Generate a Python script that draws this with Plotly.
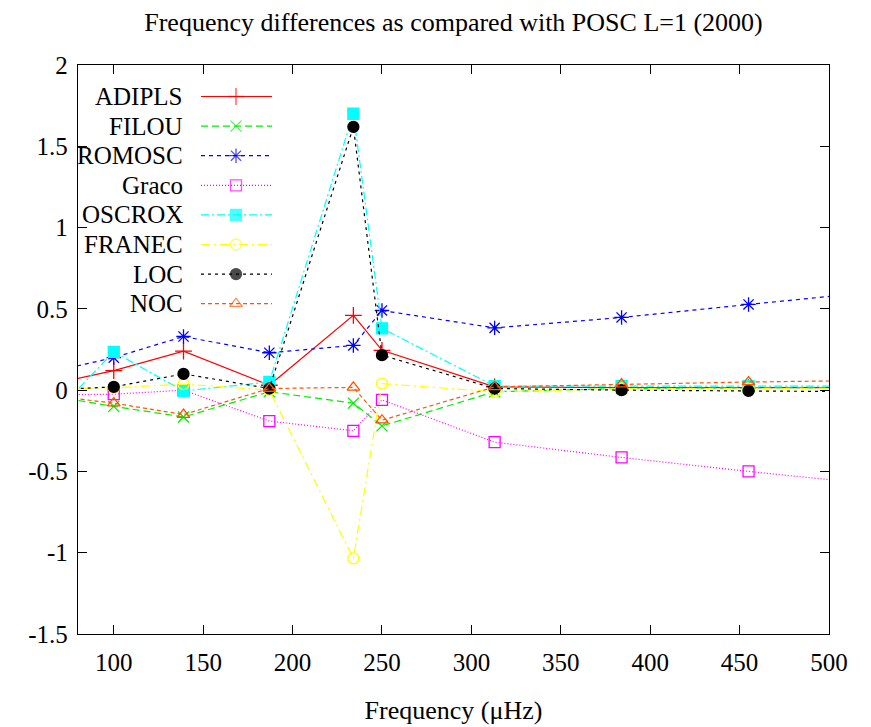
import plotly.graph_objects as go

# ---------------- data ----------------
freq = [62, 100, 139, 187, 234, 250, 313, 384, 455, 526]

adipls = [0.03, 0.12, 0.24, 0.03, 0.46, 0.245, 0.02, 0.015, 0.015, 0.015]
filou = [-0.03, -0.10, -0.165, -0.01, -0.08, -0.22, -0.01, 0.01, 0.015, 0.015]
romosc = [0.105, 0.20, 0.33, 0.23, 0.275, 0.49, 0.383, 0.447, 0.527, 0.605]
graco = [-0.03, -0.025, 0.0, -0.19, -0.25, -0.06, -0.32, -0.414, -0.50, -0.58]
oscrox = [-0.2, 0.235, -0.005, 0.05, 1.70, 0.38, 0.025, 0.026, 0.025, 0.025]
franec = [0.005, 0.015, 0.037, 0.0, -1.035, 0.04, -0.01, 0.01, 0.01, 0.01]
loc = [0.0, 0.02, 0.10, 0.01, 1.62, 0.215, 0.01, 0.0, -0.005, -0.01]
noc = [-0.03, -0.08, -0.15, 0.01, 0.017, -0.185, 0.02, 0.037, 0.05, 0.06]

series_names = ["ADIPLS", "FILOU", "ROMOSC", "Graco", "OSCROX", "FRANEC", "LOC", "NOC"]
series_values = [adipls, filou, romosc, graco, oscrox, franec, loc, noc]

x_ticks = [100, 150, 200, 250, 300, 350, 400, 450, 500]
y_ticks = [-1.5, -1, -0.5, 0, 0.5, 1, 1.5, 2]
y_tick_labels = ["-1.5", "-1", "-0.5", "0", "0.5", "1", "1.5", "2"]

title_text = "Frequency differences as compared with POSC L=1 (2000)"
x_title = "Frequency (\u03bcHz)"

# ---------------- styles ----------------
styles = [
    dict(color="#ff0000", dash="solid", symbol="cross-thin-open", size=12),
    dict(color="#00ee00", dash="7px,4px", symbol="x-thin-open", size=11),
    dict(color="#0000ff", dash="4px,4px", symbol="asterisk-open", size=12),
    dict(color="#ff00ff", dash="1px,2px", symbol="square-open", size=11),
    dict(color="#00ffff", dash="8px,3px,2px,3px", symbol="square", size=11),
    dict(color="#ffff00", dash="9px,4px,2px,4px", symbol="circle-open", size=11),
    dict(color="#000000", dash="3px,4px", symbol="circle", size=11),
    dict(color="#ff5500", dash="4px,3px", symbol="triangle-up-open", size=11),
]

FONT = "'Liberation Serif', 'Times New Roman', Times, serif"
OFF = 8  # page body margin offset
W, H = 871 - OFF, 727 - OFF
L, R, T, B = 78 - OFF, 829 - OFF, 65 - OFF, 634 - OFF

fig = go.Figure()

for name, vals, st in zip(series_names, series_values, styles):
    fig.add_trace(go.Scatter(
        x=freq, y=vals, name=name, mode="lines+markers",
        line=dict(color=st["color"], width=1.2, dash=st["dash"]),
        marker=dict(symbol=st["symbol"], size=st["size"], color=st["color"],
                    line=dict(color=st["color"], width=1.3)),
        showlegend=False,
    ))

# ---------------- gnuplot-style key (text left of sample) ----------------
def px_x(px):
    return (px - OFF - L) / (R - L)

def px_y(py):
    return (B - (py - OFF)) / (B - T)

row0, row_step = 96.5, 29.6
for i, (name, st) in enumerate(zip(series_names, styles)):
    yy = px_y(row0 + i * row_step)
    fig.add_trace(go.Scatter(
        x=[px_x(201), px_x(236), px_x(272)], y=[yy, yy, yy],
        xaxis="x2", yaxis="y2", mode="lines+markers",
        line=dict(color=st["color"], width=1.2, dash=st["dash"]),
        marker=dict(symbol=st["symbol"], size=[0, st["size"], 0], color=st["color"],
                    line=dict(color=st["color"], width=1.3)),
        showlegend=False, hoverinfo="skip",
    ))
    fig.add_annotation(
        x=px_x(185), y=yy, xref="paper", yref="paper", text=name,
        showarrow=False, xanchor="right", yanchor="middle",
        font=dict(family=FONT, size=25, color="black"),
    )

axis_common = dict(
    showgrid=False, zeroline=False, showline=True, linecolor="black", linewidth=1.3,
    mirror="ticks", ticks="inside", ticklen=9, tickwidth=1, tickcolor="black",
    tickfont=dict(family=FONT, size=25, color="black"),
)

fig.update_layout(
    width=W, height=H,
    font=dict(family=FONT, size=25, color="black"),
    margin=dict(l=L, r=W - R, t=T, b=H - B, autoexpand=False),
    paper_bgcolor="white", plot_bgcolor="white",
    title=dict(text=title_text, x=0.5, xref="paper", xanchor="center",
               y=1 - (22 - OFF) / H, yanchor="middle",
               font=dict(family=FONT, size=26, color="black")),
    xaxis=dict(range=[80, 500], tickvals=x_ticks, ticktext=[str(v) for v in x_ticks],
               title=dict(text=x_title, font=dict(family=FONT, size=26, color="black"), standoff=25),
               ticklabelstandoff=6,
               **axis_common),
    yaxis=dict(range=[-1.5, 2], tickvals=y_ticks, ticktext=y_tick_labels,
               ticklabelstandoff=4,
               **axis_common),
    xaxis2=dict(overlaying="x", range=[0, 1], visible=False, anchor="y2"),
    yaxis2=dict(overlaying="y", range=[0, 1], visible=False, anchor="x2"),
)

fig.write_html("out.html")
